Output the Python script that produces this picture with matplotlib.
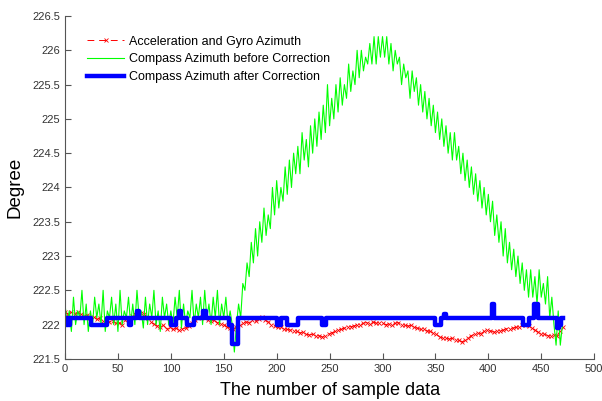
import numpy as np
import matplotlib
matplotlib.use('Agg')
from matplotlib import pyplot as plt

plt.rcParams['font.family'] = ['Liberation Sans', 'DejaVu Sans']

# compass azimuth before correction, every 2nd sample
green_x = np.arange(0, 472, 2)
green_y = [
    222.3, 222.0, 222.2, 221.9, 222.4, 222.0, 222.2, 222.1, 222.5, 222.0,
    222.3, 221.9, 222.2, 222.0, 222.4, 222.1, 222.3, 222.0, 222.5, 221.9,
    222.2, 222.1, 222.4, 222.0, 222.3, 221.9, 222.5, 222.0, 222.2, 222.1,
    222.4, 222.0, 222.3, 222.0, 222.5, 222.1, 222.2, 221.95, 222.4, 222.0,
    222.3, 222.1, 222.5, 222.0, 222.2, 221.9, 222.4, 222.1, 222.3, 222.0,
    222.2, 222.0, 222.4, 222.1, 222.5, 221.95, 222.3, 222.0, 222.2, 222.1,
    222.5, 222.0, 222.3, 222.1, 222.4, 222.0, 222.5, 222.1, 222.3, 222.0,
    222.4, 222.1, 222.5, 222.0, 222.3, 222.1, 222.4, 222.0, 222.2, 222.0,
    221.6, 222.0, 222.3, 222.1, 222.6, 222.5, 222.9, 222.7, 223.2, 222.9,
    223.4, 223.0, 223.5, 223.2, 223.7, 223.3, 223.6, 223.4, 224.0, 223.6,
    224.1, 223.7, 224.0, 223.8, 224.3, 223.9, 224.4, 224.0, 224.5, 224.2,
    224.6, 224.2, 224.8, 224.4, 224.7, 224.3, 224.9, 224.5, 225.0, 224.6,
    225.1, 224.7, 225.2, 224.8, 225.5, 224.9, 225.3, 225.0, 225.5, 225.1,
    225.6, 225.2, 225.5, 225.3, 225.8, 225.4, 225.7, 225.5, 226.0, 225.6,
    226.0, 225.7, 225.9, 225.8, 226.1, 225.8, 226.2, 225.8, 226.2, 225.9,
    226.2, 225.9, 226.2, 225.8, 226.1, 225.7, 226.0, 225.8, 225.9, 225.5,
    225.8, 225.6, 225.7, 225.3, 225.7, 225.4, 225.6, 225.2, 225.5, 225.1,
    225.4, 225.0, 225.3, 224.9, 225.2, 224.8, 225.1, 224.7, 225.0, 224.6,
    224.9, 224.5, 224.8, 224.4, 224.8, 224.4, 224.6, 224.2, 224.5, 224.1,
    224.4, 224.0, 224.3, 223.9, 224.2, 223.8, 224.1, 223.7, 224.0, 223.6,
    223.9, 223.5, 223.8, 223.3, 223.6, 223.2, 223.5, 223.0, 223.4, 222.9,
    223.2, 222.8, 223.1, 222.7, 223.0, 222.6, 222.9, 222.5, 222.8, 222.4,
    222.8, 222.4, 222.7, 222.3, 222.8, 222.4, 222.6, 222.3, 222.7, 222.1,
    222.4, 222.0, 221.7, 222.2, 221.7, 222.0,
]

# acceleration + gyro azimuth, every 3rd sample
red_x = np.arange(0, 472, 3)
red_y = [
    222.18, 222.15, 222.19, 222.16, 222.18, 222.15, 222.13, 222.14, 222.10, 222.11,
    222.08, 222.09, 222.05, 222.07, 222.04, 222.05, 222.02, 222.03, 222.00, 222.06,
    222.10, 222.13, 222.16, 222.19, 222.17, 222.15, 222.10, 222.04, 222.01, 221.98,
    221.97, 221.99, 221.94, 221.96, 221.93, 221.95, 221.92, 221.94, 221.95, 221.98,
    222.02, 222.06, 222.09, 222.11, 222.09, 222.07, 222.05, 222.06, 222.03, 222.01,
    222.00, 221.97, 221.95, 221.94, 221.96, 222.00, 222.02, 222.04, 222.03, 222.06,
    222.05, 222.08, 222.11, 222.07, 222.04, 222.00, 221.98, 221.96, 221.97, 221.94,
    221.93, 221.92, 221.91, 221.90, 221.88, 221.89, 221.86, 221.85, 221.86, 221.83,
    221.84, 221.82, 221.83, 221.86, 221.88, 221.90, 221.92, 221.93, 221.95, 221.96,
    221.97, 221.98, 222.00, 221.99, 222.02, 222.03, 222.01, 222.04, 222.02, 222.03,
    222.02, 222.00, 222.01, 221.99, 222.02, 222.03, 222.00, 221.99, 221.98, 221.99,
    221.96, 221.95, 221.93, 221.94, 221.91, 221.90, 221.88, 221.86, 221.82, 221.80,
    221.81, 221.79, 221.80, 221.78, 221.77, 221.75, 221.77, 221.80, 221.84, 221.86,
    221.88, 221.87, 221.90, 221.92, 221.91, 221.89, 221.90, 221.91, 221.92, 221.94,
    221.93, 221.95, 221.96, 221.97, 221.99, 222.00, 221.98, 221.95, 221.92, 221.89,
    221.87, 221.86, 221.84, 221.83, 221.85, 221.84, 221.90, 221.96,
]

# compass azimuth after correction (step changes)
blue_x = [0, 1, 2, 3, 4, 5, 25, 40, 60, 62, 68, 70, 100, 105, 108, 110,
          115, 122, 130, 133, 155, 158, 163, 200, 204, 210, 220, 243, 247,
          350, 355, 358, 360, 403, 405, 433, 438, 443, 447, 465, 467, 469, 471]
blue_y = [222.0, 222.1, 222.0, 222.1, 222.0, 222.1, 222.0, 222.1, 222.0, 222.1,
          222.2, 222.1, 222.0, 222.1, 222.2, 222.1, 222.0, 222.1, 222.2, 222.1,
          222.0, 221.72, 222.1, 222.0, 222.1, 222.0, 222.1, 222.0, 222.1,
          222.0, 222.1, 222.15, 222.1, 222.3, 222.1, 222.0, 222.1, 222.3, 222.1,
          221.95, 222.0, 222.1, 222.1]

fig = plt.figure(figsize=(6.02, 4.01), dpi=100)
ax = fig.add_axes([0.108, 0.105, 0.879, 0.855])

ax.plot(red_x, red_y, color='#ff0000', linestyle='--', dashes=(7, 5),
        linewidth=0.7, marker='x', markersize=3.5, markeredgewidth=0.6,
        label='Acceleration and Gyro Azimuth')
ax.plot(green_x, green_y, color='#00ff00', linewidth=0.8,
        label='Compass Azimuth before Correction')
ax.plot(blue_x, blue_y, color='#0000ff', linewidth=3.2, drawstyle='steps-post',
        label='Compass Azimuth after Correction')

ax.set_xlim(0, 500)
ax.set_ylim(221.5, 226.5)
ax.set_xticks(np.arange(0, 501, 50))
ax.set_yticks(np.arange(221.5, 226.51, 0.5))
ax.set_yticklabels(['221.5', '222', '222.5', '223', '223.5', '224',
                    '224.5', '225', '225.5', '226', '226.5'])

for s in ['top', 'right']:
    ax.spines[s].set_visible(False)
for s in ['left', 'bottom']:
    ax.spines[s].set_color('#555555')
ax.tick_params(direction='in', length=4, labelsize=8, colors='#555555',
               labelcolor='#333333')

ax.set_xlabel('The number of sample data', fontsize=13, labelpad=6)
ax.set_ylabel('Degree', fontsize=13.5, labelpad=6)

ax.legend(loc='upper left', bbox_to_anchor=(0.02, 0.975), frameon=False,
          fontsize=9, handlelength=3.0, handletextpad=0.4, labelspacing=0.45,
          numpoints=1)

fig.savefig('out.png', dpi=100)
